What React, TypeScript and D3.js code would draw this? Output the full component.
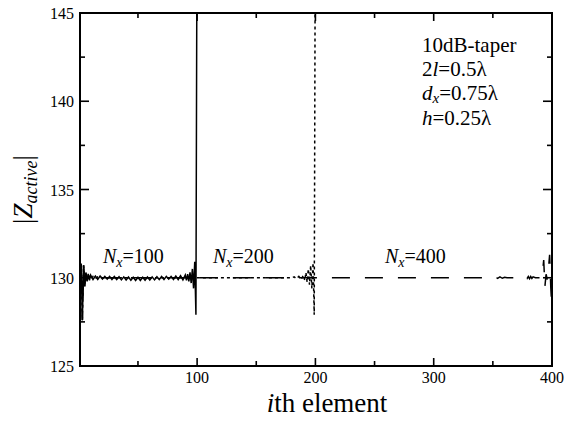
import React from 'react';
import * as d3 from 'd3';

// element index / |Z_active| pairs
const nx100: [number, number][] = [
  [1, 129.6], [2, 130.8], [3, 127.6], [4, 130.7], [5, 129.5], [6, 130.3], [7, 129.8], [8, 130.2], [9, 129.85], [10, 130.15],
  [12, 129.9], [14, 130.1], [16, 129.9], [18, 130.1], [20, 129.92], [22, 130.08], [24, 129.92], [26, 130.08], [28, 129.9],
  [30, 130.07], [32, 129.9], [34, 130.06], [36, 129.88], [38, 130.05], [40, 129.87], [42, 130.04], [44, 129.86], [46, 130.03],
  [48, 129.85], [50, 130.03], [52, 129.85], [54, 130.03], [56, 129.86], [58, 130.04], [60, 129.87], [62, 130.05], [64, 129.88],
  [66, 130.06], [68, 129.9], [70, 130.07], [72, 129.9], [74, 130.08], [76, 129.92], [78, 130.08], [80, 129.9], [82, 130.1],
  [84, 129.9], [86, 130.12], [88, 129.88], [90, 130.15], [91, 129.85], [92, 130.2], [93, 129.8], [94, 130.3], [95, 129.7],
  [96, 130.5], [97, 129.4], [98, 130.9], [99, 127.9], [100, 152],
];

const nx200: [number, number][] = [
  [1, 129.6], [2, 130.8], [3, 127.6], [4, 130.7], [5, 129.5], [6, 130.25], [7, 129.85], [8, 130.15], [10, 129.9],
  [12, 130.08], [14, 129.95], [16, 130.05], [20, 130], [180, 130], [182, 130.05], [184, 129.95], [186, 130.08],
  [188, 129.92], [190, 130.15], [191, 129.85], [192, 130.3], [193, 129.75], [194, 130.5], [195, 129.6], [196, 130.7],
  [197, 129.4], [198, 130.85], [199, 127.9], [200, 152],
];

const nx400: [number, number][] = [
  [1, 129.6], [2, 130.8], [3, 127.6], [4, 130.7], [5, 129.5], [6, 130.25], [7, 129.85], [8, 130.15], [10, 129.9],
  [12, 130.08], [14, 129.95], [16, 130.05], [20, 130], [350, 130], [352, 130.05], [354, 129.97], [356, 130.05],
  [358, 129.97], [360, 130.03], [362, 130], [376, 130], [378, 130.06], [379, 129.96], [380, 130.07], [381, 129.95],
  [382, 130.07], [383, 129.96], [384, 130.05], [386, 130], [390, 130], [391, 129.95], [392, 130.3], [393, 131.0],
  [394, 129.5], [395, 130.2], [396, 129.9], [397, 130.5], [398, 131.3], [399, 129.4], [400, 128.2],
];

const xMajor = [100, 200, 300, 400];
const xMinor = [50, 150, 250, 350];
const yMajor = [125, 130, 135, 140, 145];
const yMinor = [127.5, 132.5, 137.5, 142.5];

const W = 565, H = 421;
const L = 80, R = 552, T = 13, B = 366;
const font = 'Liberation Serif, Times New Roman, Times, DejaVu Serif, serif';

const App = () => {
  const x = d3.scaleLinear().domain([1, 400]).range([L, R]);
  const y = d3.scaleLinear().domain([125, 145]).range([B, T]);
  const line = d3.line<[number, number]>().x(d => x(d[0])).y(d => y(d[1]));

  const tick = (k: string, x1: number, y1: number, x2: number, y2: number) => (
    <line key={k} x1={x1} y1={y1} x2={x2} y2={y2} stroke="#000" strokeWidth={1.6} />
  );

  return (
    <svg width={W} height={H} style={{ position: 'absolute', left: 0, top: 0, background: '#fff' }}>
      <defs>
        <clipPath id="plot">
          <rect x={L} y={T} width={R - L} height={B - T} />
        </clipPath>
      </defs>

      <g clipPath="url(#plot)" fill="none" stroke="#000" strokeWidth={1.5}>
        <path d={line(nx400) || ''} strokeDasharray="18,15" />
        <path d={line(nx200) || ''} strokeDasharray="3,3" />
        <path d={line(nx100) || ''} />
      </g>

      {/* frame */}
      <rect x={L} y={T} width={R - L} height={B - T} fill="none" stroke="#000" strokeWidth={2} />

      {/* ticks on all four sides */}
      {xMajor.map(v => tick('xb' + v, x(v), B, x(v), B - 8))}
      {xMajor.map(v => tick('xt' + v, x(v), T, x(v), T + 8))}
      {xMinor.map(v => tick('xbm' + v, x(v), B, x(v), B - 5))}
      {xMinor.map(v => tick('xtm' + v, x(v), T, x(v), T + 5))}
      {yMajor.map(v => tick('yl' + v, L, y(v), L + 9, y(v)))}
      {yMajor.map(v => tick('yr' + v, R, y(v), R - 9, y(v)))}
      {yMinor.map(v => tick('ylm' + v, L, y(v), L + 5, y(v)))}
      {yMinor.map(v => tick('yrm' + v, R, y(v), R - 5, y(v)))}

      {/* tick labels */}
      <g fontSize={16} fill="#000">
        {xMajor.map(v => (
          <text key={'xl' + v} x={x(v)} y={383} textAnchor="middle" fontFamily={font}>{v}</text>
        ))}
        {yMajor.map(v => (
          <text key={'yl' + v} x={L - 6} y={y(v) + 6} textAnchor="end" fontFamily={font}>{v}</text>
        ))}
      </g>

      {/* axis titles */}
      <text x={327} y={412} textAnchor="middle" fontSize={27} fontFamily={font}>
        <tspan fontStyle="italic">i</tspan>th element
      </text>
      <text transform={`translate(32,${(T + B) / 2}) rotate(-90)`} textAnchor="middle" fontSize={27} fontFamily={font}>
        |<tspan fontStyle="italic">Z</tspan>
        <tspan fontStyle="italic" fontSize={18} dy={5}>active</tspan>
        <tspan dy={-5}>|</tspan>
      </text>

      {/* curve labels */}
      <g fontSize={20}>
        {[[103, '100'], [213, '200'], [385, '400']].map(([px, n]) => (
          <text key={'n' + n} x={px as number} y={263} fontFamily={font}>
            <tspan fontStyle="italic">N</tspan>
            <tspan fontStyle="italic" fontSize={14} dy={4}>x</tspan>
            <tspan dy={-4}>={n}</tspan>
          </text>
        ))}
      </g>

      {/* parameters */}
      <g fontSize={21}>
        <text x={422} y={52} fontFamily={font}>10dB-taper</text>
        <text x={422} y={76} fontFamily={font}>2<tspan fontStyle="italic">l</tspan>=0.5λ</text>
        <text x={422} y={100} fontFamily={font}>
          <tspan fontStyle="italic">d</tspan>
          <tspan fontStyle="italic" fontSize={15} dy={3}>x</tspan>
          <tspan dy={-3}>=0.75λ</tspan>
        </text>
        <text x={422} y={125} fontFamily={font}><tspan fontStyle="italic">h</tspan>=0.25λ</text>
      </g>
    </svg>
  );
};

export default App;
